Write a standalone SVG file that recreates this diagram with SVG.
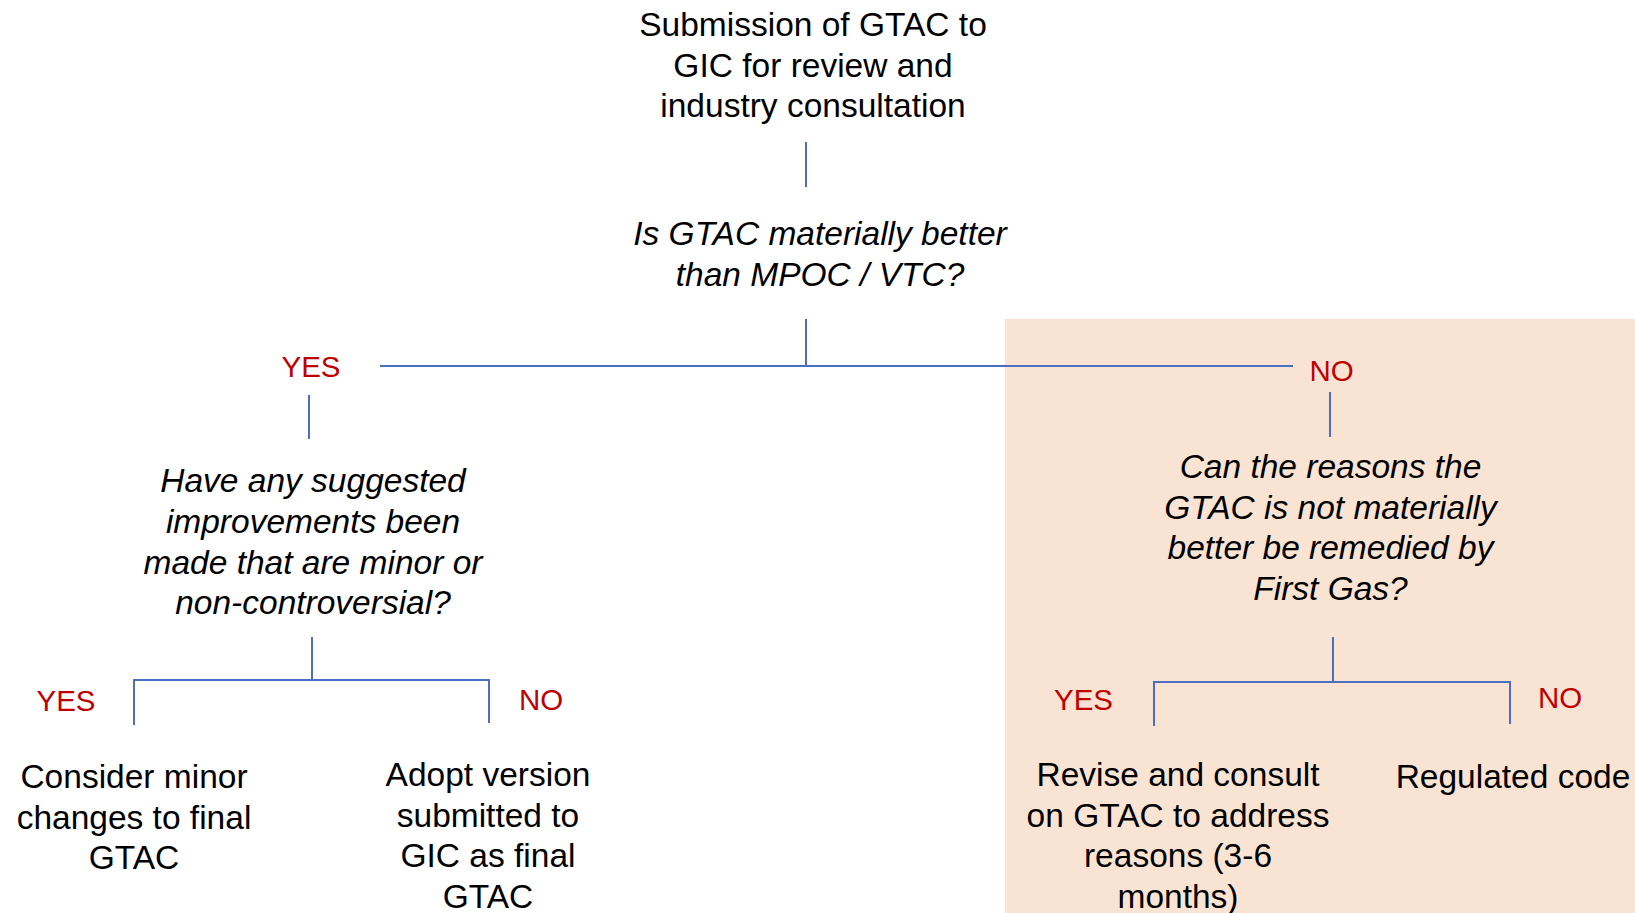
<svg xmlns="http://www.w3.org/2000/svg" width="1635" height="913" viewBox="0 0 1635 913">
<style>
.t{font-family:"Liberation Sans",Arial,sans-serif;font-size:33.5px;fill:#000;text-anchor:middle}
.q{font-style:italic}
.lb{font-family:"Liberation Sans",Arial,sans-serif;font-size:29.5px;fill:#C00000;text-anchor:middle}
.c{stroke:#4A6FC0;stroke-width:2;fill:none}
</style>
<rect x="0" y="0" width="1635" height="913" fill="#fff"/>
<rect id="no-zone" x="1005" y="319" width="630" height="594" fill="#F9E4D3"/>
<g id="connectors">
<line class="c" x1="806" y1="142" x2="806" y2="187"/>
<line class="c" x1="806" y1="319" x2="806" y2="366"/>
<line class="c" x1="380" y1="366" x2="1293" y2="366"/>
<line class="c" x1="309" y1="395" x2="309" y2="439"/>
<line class="c" x1="1330" y1="392" x2="1330" y2="437"/>
<path class="c" d="M312 637 V680 M134 725 V680 H489 V723"/>
<path class="c" d="M1333 637 V682 M1154 726 V682 H1510 V724"/>
</g>
<g id="n-submission"><text class="t" x="813" y="36">Submission of GTAC to</text><text class="t" x="813" y="76.5">GIC for review and</text><text class="t" x="813" y="117">industry consultation</text></g>
<g id="n-q1"><text class="t q" x="820" y="245">Is GTAC materially better</text><text class="t q" x="820" y="285.5">than MPOC / VTC?</text></g>
<g id="l-yes1"><text class="lb" x="311" y="377">YES</text></g>
<g id="l-no1"><text class="lb" x="1331.5" y="381">NO</text></g>
<g id="n-q2"><text class="t q" x="313" y="492">Have any suggested</text><text class="t q" x="313" y="533">improvements been</text><text class="t q" x="313" y="573.5">made that are minor or</text><text class="t q" x="313" y="614">non-controversial?</text></g>
<g id="n-q3"><text class="t q" x="1330.5" y="478">Can the reasons the</text><text class="t q" x="1330.5" y="518.5">GTAC is not materially</text><text class="t q" x="1330.5" y="559">better be remedied by</text><text class="t q" x="1330.5" y="599.5">First Gas?</text></g>
<g id="l-yes2"><text class="lb" x="66" y="711">YES</text></g>
<g id="l-no2"><text class="lb" x="541" y="710">NO</text></g>
<g id="l-yes3"><text class="lb" x="1083.5" y="710">YES</text></g>
<g id="l-no3"><text class="lb" x="1560" y="708">NO</text></g>
<g id="n-minor"><text class="t" x="134" y="788">Consider minor</text><text class="t" x="134" y="828.5">changes to final</text><text class="t" x="134" y="869">GTAC</text></g>
<g id="n-adopt"><text class="t" x="488" y="786">Adopt version</text><text class="t" x="488" y="826.5">submitted to</text><text class="t" x="488" y="867">GIC as final</text><text class="t" x="488" y="907.5">GTAC</text></g>
<g id="n-revise"><text class="t" x="1178" y="786">Revise and consult</text><text class="t" x="1178" y="826.5">on GTAC to address</text><text class="t" x="1178" y="867">reasons (3-6</text><text class="t" x="1178" y="907.5">months)</text></g>
<g id="n-regulated"><text class="t" x="1513" y="788">Regulated code</text></g>
</svg>
